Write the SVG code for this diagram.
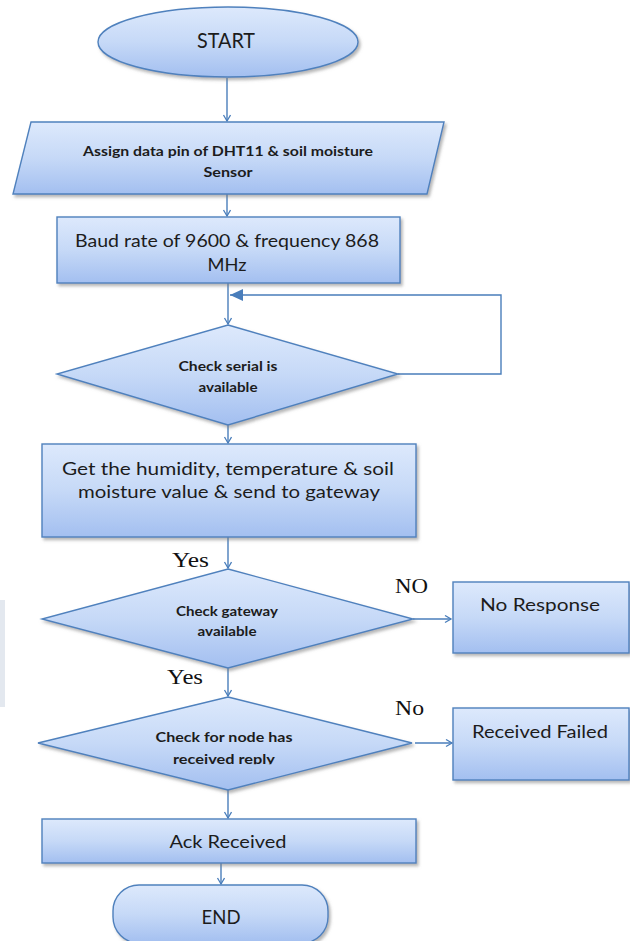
<svg xmlns="http://www.w3.org/2000/svg" width="630" height="941" viewBox="0 0 630 941">
<style>
.shape{fill:url(#g);stroke:#4f81bd;stroke-width:1.4;filter:url(#sh)}
.t{font-family:Lato,"Liberation Sans",sans-serif;fill:#1c1c1c;text-anchor:middle}
.s{font-size:13px;font-weight:bold}
.m{font-size:17px}
.lbl{font-family:"Liberation Serif","Times New Roman",serif;font-size:22px;fill:#111}
.c{fill:none;stroke:#4a7ebb;stroke-width:1.4}
</style>
<defs>
<linearGradient id="g" x1="0" y1="0" x2="0" y2="1">
<stop offset="0" stop-color="#dde9fc"/>
<stop offset="0.5" stop-color="#c6d9f7"/>
<stop offset="1" stop-color="#a3bff0"/>
</linearGradient>
<filter id="sh" x="-10%" y="-10%" width="125%" height="130%">
<feDropShadow dx="2" dy="2.5" stdDeviation="1.5" flood-color="#7a7a7a" flood-opacity="0.55"/>
</filter>
<marker id="a" markerUnits="userSpaceOnUse" markerWidth="10" markerHeight="10" refX="7" refY="4" orient="auto">
<path d="M1,0.5 L7,4 L1,7.5" fill="none" stroke="#4a7ebb" stroke-width="1.3"/>
</marker>
<marker id="af" markerUnits="userSpaceOnUse" markerWidth="16" markerHeight="14" refX="13" refY="6" orient="auto">
<path d="M0,0 L13,6 L0,12 Z" fill="#4a7ebb"/>
</marker>
<clipPath id="cl"><rect x="100" y="748" width="240" height="16.3"/></clipPath>
</defs>
<rect x="0" y="600" width="5" height="107" fill="#e3e8ef"/>
<g id="connectors">
<line class="c" x1="227" y1="78" x2="227" y2="121" marker-end="url(#a)"/>
<line class="c" x1="227" y1="194" x2="227" y2="216" marker-end="url(#a)"/>
<line class="c" x1="228" y1="283" x2="228" y2="324" marker-end="url(#a)"/>
<polyline class="c" points="398,374 501,374 501,295 230,295" marker-end="url(#af)"/>
<line class="c" x1="228" y1="425" x2="228" y2="443" marker-end="url(#a)"/>
<line class="c" x1="228" y1="537" x2="228" y2="568" marker-end="url(#a)"/>
<line class="c" x1="228" y1="668" x2="228" y2="696" marker-end="url(#a)"/>
<line class="c" x1="228" y1="790" x2="228" y2="818" marker-end="url(#a)"/>
<line class="c" x1="221" y1="863" x2="221" y2="884" marker-end="url(#a)"/>
<line class="c" x1="413" y1="619" x2="451" y2="619" marker-end="url(#a)"/>
<line class="c" x1="415" y1="743" x2="452" y2="743" marker-end="url(#a)"/>
<text class="lbl" x="172" y="567" textLength="37" lengthAdjust="spacingAndGlyphs">Yes</text>
<text class="lbl" x="167" y="684" textLength="36" lengthAdjust="spacingAndGlyphs">Yes</text>
<text class="lbl" x="395" y="593" textLength="33" lengthAdjust="spacingAndGlyphs">NO</text>
<text class="lbl" x="395" y="715" textLength="29" lengthAdjust="spacingAndGlyphs">No</text>
</g>
<g id="start">
<ellipse class="shape" cx="228" cy="42" rx="130" ry="35"/>
<text class="t" x="226" y="48" font-size="21" textLength="58" lengthAdjust="spacingAndGlyphs">START</text>
</g>
<g id="assign">
<polygon class="shape" points="31,122 444,122 427,194 13,194"/>
<text class="t s" x="228" y="156" textLength="290" lengthAdjust="spacingAndGlyphs">Assign data pin of DHT11 &amp; soil moisture</text>
<text class="t s" x="228" y="177" textLength="49" lengthAdjust="spacingAndGlyphs">Sensor</text>
</g>
<g id="baud">
<rect class="shape" x="57" y="217" width="343" height="66"/>
<text class="t m" x="227" y="247" textLength="304" lengthAdjust="spacingAndGlyphs">Baud rate of 9600 &amp; frequency 868</text>
<text class="t m" x="227" y="271" textLength="39" lengthAdjust="spacingAndGlyphs">MHz</text>
</g>
<g id="check-serial">
<polygon class="shape" points="228,325 398,374 228,425 57,374"/>
<text class="t s" x="228" y="371" textLength="99" lengthAdjust="spacingAndGlyphs">Check serial is</text>
<text class="t s" x="228" y="392" textLength="59" lengthAdjust="spacingAndGlyphs">available</text>
</g>
<g id="get-values">
<rect class="shape" x="42" y="444" width="374" height="93"/>
<text class="t m" x="228" y="475" textLength="332" lengthAdjust="spacingAndGlyphs">Get the humidity, temperature &amp; soil</text>
<text class="t m" x="229" y="498" textLength="302" lengthAdjust="spacingAndGlyphs">moisture value &amp; send to gateway</text>
</g>
<g id="check-gateway">
<polygon class="shape" points="228,569 413,619 228,668 42,619"/>
<text class="t s" x="227" y="616" textLength="102" lengthAdjust="spacingAndGlyphs">Check gateway</text>
<text class="t s" x="227" y="636" textLength="59" lengthAdjust="spacingAndGlyphs">available</text>
</g>
<g id="no-response">
<rect class="shape" x="453" y="582" width="176" height="71"/>
<text class="t m" x="540" y="611" textLength="120" lengthAdjust="spacingAndGlyphs">No Response</text>
</g>
<g id="check-reply">
<polygon class="shape" points="228,697 412,743 228,790 38,743"/>
<text class="t s" x="224" y="742" textLength="137" lengthAdjust="spacingAndGlyphs">Check for node has</text>
<text class="t s" x="224" y="764" textLength="102" lengthAdjust="spacingAndGlyphs" clip-path="url(#cl)">received reply</text>
</g>
<g id="received-failed">
<rect class="shape" x="453" y="708" width="176" height="72"/>
<text class="t m" x="540" y="738" textLength="136" lengthAdjust="spacingAndGlyphs">Received Failed</text>
</g>
<g id="ack">
<rect class="shape" x="42" y="819" width="374" height="44"/>
<text class="t m" x="228" y="848" textLength="117" lengthAdjust="spacingAndGlyphs">Ack Received</text>
</g>
<g id="end">
<rect class="shape" x="113" y="885" width="215" height="58" rx="26" ry="26"/>
<text class="t" x="221" y="924" font-size="19" textLength="39" lengthAdjust="spacingAndGlyphs">END</text>
</g>
</svg>
